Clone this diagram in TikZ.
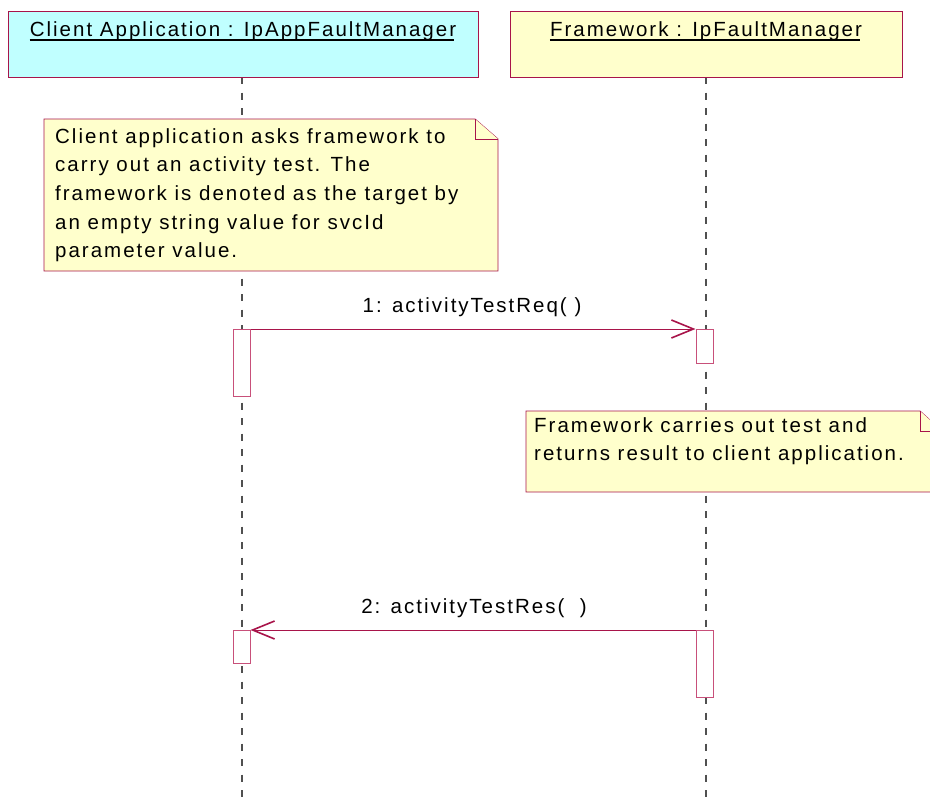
\documentclass[tikz,border=0pt]{standalone}
\usepackage{fontspec}
\setmainfont{Liberation Sans}[LetterSpace=9.8]
\usetikzlibrary{arrows.meta}
\definecolor{edge}{HTML}{A8144A}
\definecolor{actedge}{HTML}{C8507A}
\definecolor{cyanfill}{HTML}{C0FFFF}
\definecolor{notefill}{HTML}{FFFFCC}
\definecolor{life}{HTML}{505050}
\tikzset{
  objbox/.style={draw=edge, line width=0.9pt, minimum height=66pt, inner sep=0pt},
  objtext/.style={inner sep=0pt, anchor=base, font=\fontsize{20.5}{24}\selectfont},
  lifeline/.style={draw=life, line width=1.1pt, dash pattern=on 7pt off 8.5pt},
  actbox/.style={draw=actedge, fill=white, line width=1pt, minimum width=17pt, inner sep=0pt},
  notebox/.style={draw=edge, fill=notefill, line width=0.9pt, line join=miter},
  notetext/.style={inner sep=0pt, anchor=north west, align=left, font=\fontsize{20.5}{28.7}\selectfont},
  msg/.style={draw=edge, line width=1pt, -{Straight Barb[length=22pt, width=18pt, line width=1.6pt]}},
  msgtext/.style={inner sep=0pt, anchor=base, font=\fontsize{20.5}{24}\selectfont}
}
\begin{document}
\begin{tikzpicture}[x=1pt, y=-1pt]
\useasboundingbox (0,0) rectangle (930,803);
% lifelines
\coordinate (l1top) at (242,77);
\coordinate (l1bot) at (242,803);
\coordinate (l2top) at (706,77);
\coordinate (l2bot) at (706,803);
\draw[lifeline] (l1top) -- (l1bot);
\draw[lifeline] (l2top) -- (l2bot);
% objects
\node[objbox, fill=cyanfill, minimum width=470pt] (ca) at (243,44) {};
\node[objbox, fill=notefill, minimum width=392pt] (fw) at (706,44) {};
\node[objtext] (catext) at (243,36) {Client Application : IpAppFaultManager};
\node[objtext] (fwtext) at (706,36) {Framework : IpFaultManager};
\draw[line width=1.4pt] ([yshift=-4pt]catext.base west) -- ([yshift=-4pt,xshift=-2pt]catext.base east);
\draw[line width=1.4pt] ([yshift=-4pt]fwtext.base west) -- ([yshift=-4pt,xshift=-2pt]fwtext.base east);
% note 1
\draw[notebox] (44,119) -- (475,119) -- (498,139) -- (498,271) -- (44,271) -- cycle;
\draw[notebox] (475,119) -- (475,139) -- (498,139);
\node[notetext] (n1) at (55,128) {Client application asks framework to\\carry out an activity test. The\\framework is denoted as the target by\\an empty string value for svcId\\parameter value.};
% note 2
\draw[notebox] (526,411) -- (920,411) -- (942,431) -- (942,492) -- (526,492) -- cycle;
\draw[notebox] (920,411) -- (920,431) -- (942,431);
\node[notetext] (n2) at (534,417) {Framework carries out test and\\returns result to client application.};
% activations
\node[actbox, minimum height=67pt, anchor=north] (a1) at (241.5,329) {};
\node[actbox, minimum height=34pt, anchor=north] (b1) at (704.5,329) {};
\node[actbox, minimum height=33pt, anchor=north] (a2) at (241.5,630) {};
\node[actbox, minimum height=67pt, anchor=north] (b2) at (704.5,630) {};
% messages
\draw[msg] (a1.north east) -- (b1.north west);
\node[msgtext] (m1) at (472,312) {1: activityTestReq( )};
\draw[msg] (b2.north west) -- (a2.north east);
\node[msgtext] (m2) at (474,613) {2: activityTestRes(\ \ )};
\end{tikzpicture}
\end{document}
